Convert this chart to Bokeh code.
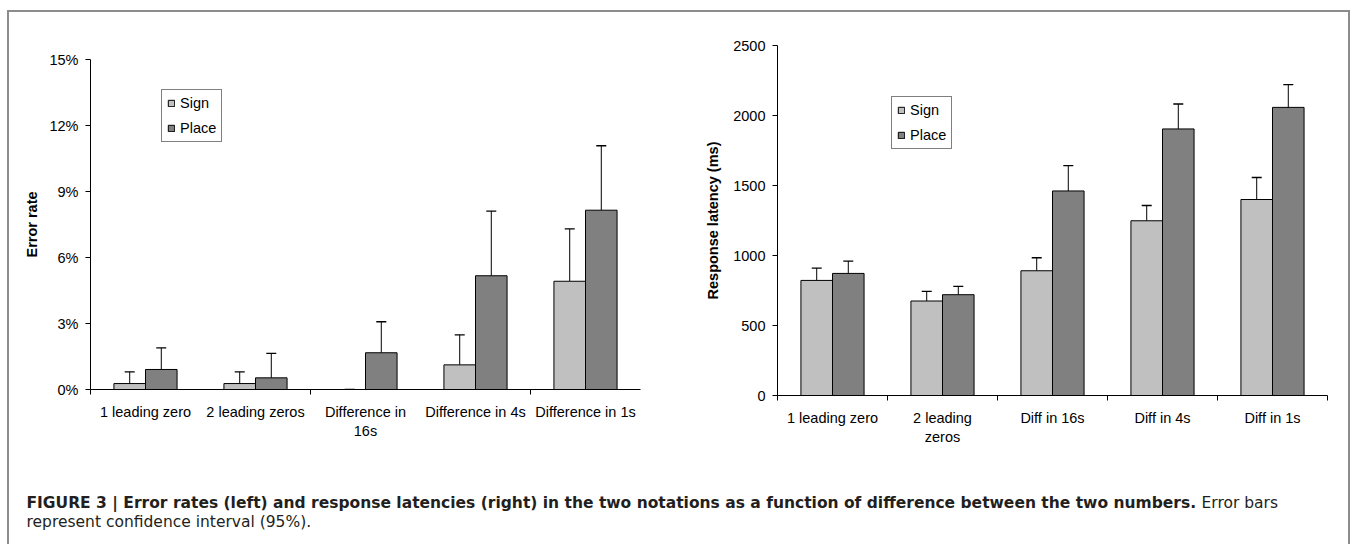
import numpy as np
from bokeh.plotting import figure
from bokeh.models import (Range1d, FixedTicker, PrintfTickFormatter, Legend, LegendItem,
                          Whisker, TeeHead, ColumnDataSource, Div)
from bokeh.embed import file_html
from bokeh.resources import INLINE
from bokeh.core.properties import value

# ---------------- data ----------------
series_names = ["Sign", "Place"]

left_categories = ["1 leading zero", "2 leading zeros", "Difference in\n16s",
                   "Difference in 4s", "Difference in 1s"]
right_categories = ["1 leading zero", "2 leading\nzeros", "Diff in 16s",
                    "Diff in 4s", "Diff in 1s"]

# error rates (percent) and upper limit of the 95% CI
err_sign = [0.27, 0.27, 0.0, 1.12, 4.92]
err_sign_upper = [0.80, 0.80, 0.0, 2.48, 7.30]
err_place = [0.91, 0.53, 1.67, 5.17, 8.15]
err_place_upper = [1.89, 1.64, 3.08, 8.11, 11.08]

# response latencies (ms) and upper limit of the 95% CI
lat_sign = [822, 675, 891, 1248, 1400]
lat_sign_upper = [910, 744, 984, 1357, 1557]
lat_place = [872, 720, 1461, 1904, 2058]
lat_place_upper = [960, 779, 1642, 2082, 2220]

left_yticks = [0, 3, 6, 9, 12, 15]
right_yticks = [0, 500, 1000, 1500, 2000, 2500]

caption_bold = ("FIGURE 3 | Error rates (left) and response latencies (right) in the two "
                "notations as a function of difference between the two numbers.")
caption_regular_1 = "Error bars"
caption_regular_2 = "represent confidence interval (95%)."

# ---------------- style ----------------
FONT = "Liberation Sans"
CAP_FONT = "DejaVu Sans"
CAP_FS = "15.5px"
TICK_FS = "14.5px"
SIGN_COLOR = "#c0c0c0"
PLACE_COLOR = "#808080"
BAR_W = 0.287


def make_chart(cats, sign, sign_up, place, place_up, yticks, fmt, ylabel,
               minor, borders, legend_loc, label_standoff, xlabel_standoff, pos):
    left, right, top, bottom = borders
    n = len(cats)
    p = figure(width=672, height=458, x_range=Range1d(0, n),
               y_range=Range1d(yticks[0], yticks[-1]),
               output_backend="svg", toolbar_location=None,
               min_border_left=left, min_border_right=right,
               min_border_top=top, min_border_bottom=bottom,
               styles={"position": "absolute", "left": f"{pos[0]}px", "top": f"{pos[1]}px"})
    p.grid.visible = False
    p.outline_line_color = None
    p.background_fill_color = "white"
    p.border_fill_color = "white"

    idx = np.arange(n)
    xs_sign = idx + 0.5 - BAR_W / 2
    xs_place = idx + 0.5 + BAR_W / 2
    r1 = p.vbar(x=xs_sign, top=sign, bottom=0, width=BAR_W, fill_color=SIGN_COLOR,
                line_color="black", line_width=1)
    r2 = p.vbar(x=xs_place, top=place, bottom=0, width=BAR_W, fill_color=PLACE_COLOR,
                line_color="black", line_width=1)

    for xs, v, up in ((xs_sign, sign, sign_up), (xs_place, place, place_up)):
        src = ColumnDataSource(dict(x=xs, lower=v, upper=up))
        w = Whisker(source=src, base="x", lower="lower", upper="upper",
                    dimension="height", line_color="black", line_width=1,
                    lower_head=None,
                    upper_head=TeeHead(size=10, line_color="black", line_width=1.3))
        p.add_layout(w)

    # x axis: category labels at centres, tick marks at category boundaries
    xa = p.xaxis[0]
    xa.ticker = FixedTicker(ticks=[float(i) + 0.5 for i in idx], minor_ticks=minor)
    xa.major_label_overrides = {float(i) + 0.5: c for i, c in zip(idx, cats)}
    xa.major_tick_line_color = None
    xa.major_tick_out = 5
    xa.major_tick_in = 0
    xa.minor_tick_out = 5
    xa.minor_tick_in = 0
    xa.minor_tick_line_color = "black"
    xa.axis_line_color = "black"
    xa.major_label_text_font = FONT
    xa.major_label_text_font_size = TICK_FS
    xa.major_label_text_color = "black"
    xa.major_label_standoff = xlabel_standoff

    ya = p.yaxis[0]
    ya.ticker = FixedTicker(ticks=yticks)
    ya.formatter = PrintfTickFormatter(format=fmt)
    ya.major_tick_out = 5
    ya.major_tick_in = 0
    ya.minor_tick_line_color = None
    ya.axis_line_color = "black"
    ya.major_tick_line_color = "black"
    ya.major_label_text_font = FONT
    ya.major_label_text_font_size = TICK_FS
    ya.major_label_text_color = "black"
    ya.major_label_standoff = 7
    ya.axis_label = ylabel
    ya.axis_label_text_font = FONT
    ya.axis_label_text_font_style = "bold"
    ya.axis_label_text_font_size = TICK_FS
    ya.axis_label_text_color = "black"
    ya.axis_label_standoff = label_standoff

    legend = Legend(items=[LegendItem(label=series_names[0], renderers=[r1]),
                           LegendItem(label=series_names[1], renderers=[r2])],
                    location=legend_loc, border_line_color="black", border_line_width=1,
                    glyph_width=8, glyph_height=8, label_standoff=5, padding=5,
                    spacing=9, label_height=15, margin=0,
                    label_text_font=FONT, label_text_font_size=TICK_FS,
                    label_text_color="black", background_fill_color="white",
                    background_fill_alpha=1)
    p.add_layout(legend)
    return p


p1 = make_chart(left_categories, err_sign, err_sign_upper, err_place, err_place_upper,
                left_yticks, "%d%%", "Error rate", [0, 2, 4], (81, 41, 47, 81),
                (71, 247), 6, 9, (9, 12))
p2 = make_chart(right_categories, lat_sign, lat_sign_upper, lat_place, lat_place_upper,
                right_yticks, "%d", "Response latency (ms)", [0, 1, 2, 3, 4, 5],
                (96, 26, 33, 75), (114, 246), 9, 9, (681, 12))

# caption panel (coordinates in pixels of this panel)
CAP_W, CAP_H = 1344, 74
p3 = figure(width=CAP_W, height=CAP_H, x_range=Range1d(0, CAP_W), y_range=Range1d(CAP_H, 0),
            output_backend="svg", toolbar_location=None, x_axis_type=None, y_axis_type=None,
            min_border=0,
            styles={"position": "absolute", "left": "9px", "top": "470px"})
p3.grid.visible = False
p3.outline_line_color = None
p3.text(x=[17], y=[32], text=[caption_bold], text_font=value(CAP_FONT), text_font_style="bold",
        text_font_size=CAP_FS, text_baseline="middle", text_align="left", text_color="#231f20")
p3.text(x=[1192], y=[32], text=[caption_regular_1], text_font=value(CAP_FONT),
        text_font_size=CAP_FS, text_baseline="middle", text_align="left", text_color="#231f20")
p3.text(x=[17], y=[51], text=[caption_regular_2], text_font=value(CAP_FONT),
        text_font_size=CAP_FS, text_baseline="middle", text_align="left", text_color="#231f20")

frame = Div(text="", width=1343, height=540, margin=0,
            styles={"position": "absolute", "left": "7px", "top": "10px",
                    "border-left": "2px solid #8c8c8c", "border-right": "2px solid #8c8c8c",
                    "border-top": "2px solid #8c8c8c", "pointer-events": "none"})

open("out.html", "w").write(file_html([p1, p2, p3, frame], INLINE))
